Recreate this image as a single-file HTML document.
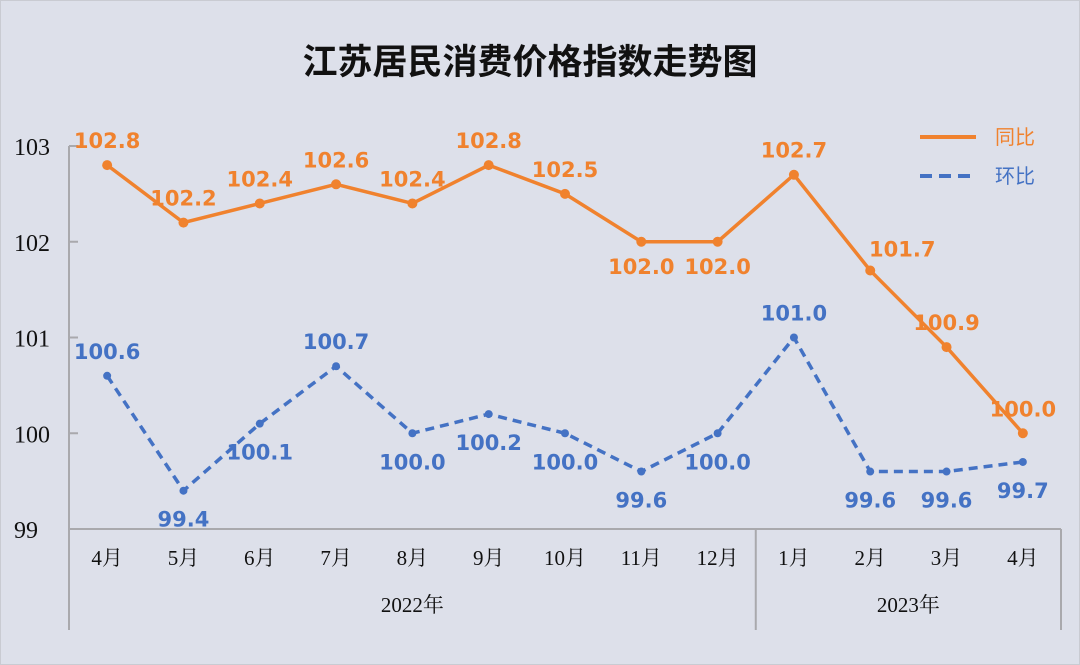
<!DOCTYPE html>
<html><head><meta charset="utf-8"><style>
html,body{margin:0;padding:0;background:#dde0ea;}
svg{display:block;}
</style></head><body>
<svg id="chart" width="1080" height="665" viewBox="0 0 1080 665" xmlns="http://www.w3.org/2000/svg">
<rect x="0" y="0" width="1080" height="665" fill="#dde0ea"/>
<rect x="0.5" y="0.5" width="1079" height="664" fill="none" stroke="#c9cbd2"/>
<text x="530" y="74" text-anchor="middle" font-family="'Liberation Sans','Noto Sans CJK SC',sans-serif" font-weight="bold" font-size="35" fill="#111">江苏居民消费价格指数走势图</text>
<g id="axes"></g>
<g id="series"></g>
<g id="legend">
<line x1="920" y1="137" x2="976" y2="137" stroke="#f0822e" stroke-width="4"/>
<text x="995" y="144" font-family="'Liberation Sans','Noto Sans CJK SC',sans-serif" font-size="20" fill="#f0822e">同比</text>
<line x1="920" y1="176" x2="976" y2="176" stroke="#4472c4" stroke-width="4" stroke-dasharray="12,7"/>
<text x="995" y="183" font-family="'Liberation Sans','Noto Sans CJK SC',sans-serif" font-size="20" fill="#4472c4">环比</text>
</g>
</svg>
<script>
const categories=["4月","5月","6月","7月","8月","9月","10月","11月","12月","1月","2月","3月","4月"];
const years=["2022年","2023年"];
const yearCounts=[9,4];
const yoy=[102.8,102.2,102.4,102.6,102.4,102.8,102.5,102.0,102.0,102.7,101.7,100.9,100.0];
const mom=[100.6,99.4,100.1,100.7,100.0,100.2,100.0,99.6,100.0,101.0,99.6,99.6,99.7];
const yTicks=[99,100,101,102,103];
const yoyLabelPos=["a","a","a","a","a","a","a","b","b","a","r","a","a"];
const momLabelPos=["a","b","b","a","b","b","b","b","b","a","b","b","b"];

const NS="http://www.w3.org/2000/svg";
const L=69,R=1061,T=146,B=529,yMin=99,yMax=103;
const band=(R-L)/categories.length;
const xs=i=>L+band*(i+0.5);
const ys=v=>B-(v-yMin)/(yMax-yMin)*(B-T);
function mk(tag,attrs,parent,text){const e=document.createElementNS(NS,tag);for(const k in attrs)e.setAttribute(k,attrs[k]);if(text!==undefined)e.textContent=text;parent.appendChild(e);return e;}
const ax=document.getElementById('axes');
const serif="'Liberation Serif','Noto Serif CJK SC',serif";
let e=mk('line',{x1:L,y1:T,x2:L,y2:630,stroke:'#a9a9ad','stroke-width':2},ax);


e=mk('line',{x1:L,y1:B,x2:R,y2:B,stroke:'#a9a9ad','stroke-width':2},ax);


yTicks.forEach(t=>{
  const y=ys(t);
  const tl=mk('line',{x1:L,y1:y,x2:L+9,y2:y,stroke:'#a9a9ad','stroke-width':2},ax);
  
  
  const tx=mk('text',{x:14,y:y+9,'font-family':serif,'font-size':24,fill:'#111'},ax,String(t));
  
  
});
categories.forEach((c,i)=>{
  const t=mk('text',{x:xs(i),y:565,'text-anchor':'middle','font-family':serif,'font-size':21,fill:'#111'},ax,c);
  
  
});
let start=0;
years.forEach((yr,k)=>{
  const end=start+yearCounts[k];
  const x0=L+band*start,x1=L+band*end;
  const sl=mk('line',{x1:x1,y1:B,x2:x1,y2:630,stroke:'#a9a9ad','stroke-width':2},ax);
  
  
  const t=mk('text',{x:(x0+x1)/2,y:612,'text-anchor':'middle','font-family':serif,'font-size':21,fill:'#111'},ax,yr);
  
  
  start=end;
});
const sg=document.getElementById('series');
function drawSeries(vals,color,dash,name,pos,below){
  const pts=vals.map((v,i)=>xs(i)+','+ys(v)).join(' ');
  const pl=mk('polyline',{points:pts,fill:'none',stroke:color,'stroke-width':3.5,'stroke-dasharray':dash},sg);
  
  
  vals.forEach((v,i)=>{
    const c=mk('circle',{cx:xs(i),cy:ys(v),r:name==='yoy'?5:4,fill:color},sg);
    
    
    let lx=xs(i),ly=ys(v)-17;
    if(pos[i]==='b')ly=ys(v)+below;
    if(pos[i]==='r'){lx=xs(i)+32;ly=ys(v)-14;}
    const t=mk('text',{x:lx,y:ly,'text-anchor':'middle','font-family':"'DejaVu Sans','Liberation Sans',sans-serif",'font-weight':'bold','font-size':21,fill:color},sg,v.toFixed(1));
    
    
  });
}
drawSeries(yoy,'#f0822e','none','yoy',yoyLabelPos,32);
drawSeries(mom,'#4472c4','9,6','mom',momLabelPos,36);
</script>
</body></html>
